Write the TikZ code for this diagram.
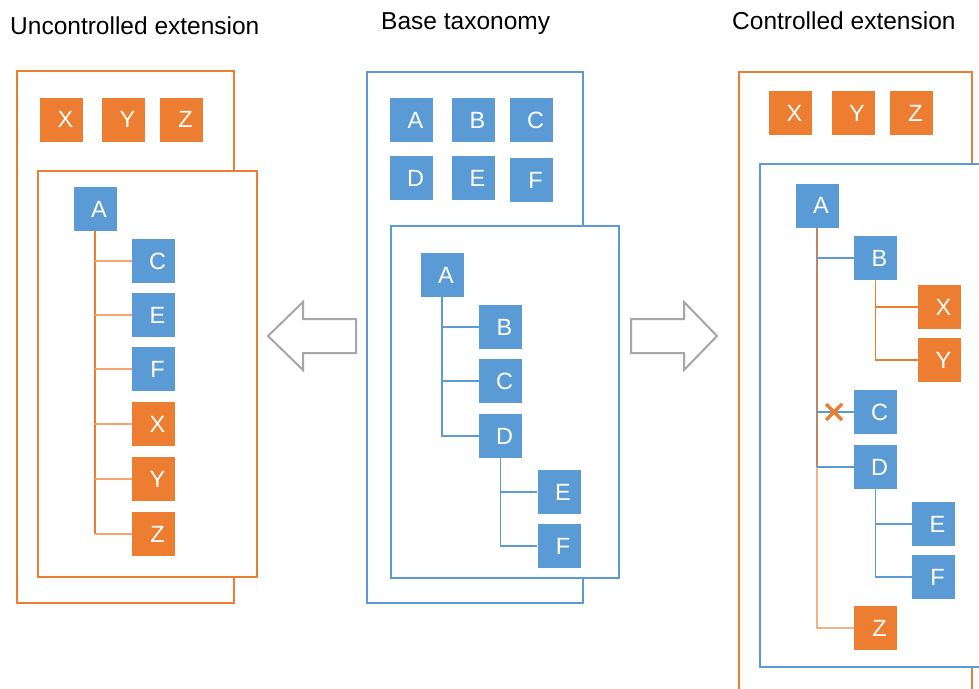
\documentclass[tikz,border=0pt]{standalone}
\usepackage{fontspec}
\setmainfont{Liberation Sans}
\definecolor{tblue}{RGB}{91,155,213}
\definecolor{torange}{RGB}{237,125,49}
\definecolor{tbrown}{RGB}{188,132,96}
\definecolor{tgrey}{RGB}{166,166,166}
\tikzset{
	box/.style={minimum width=43pt, minimum height=44pt, inner sep=0pt, text=white,
		font=\fontsize{23.5}{27}\selectfont, execute at begin node=\hspace*{8pt}},
	bbox/.style={box, fill=tblue},
	obox/.style={box, fill=torange},
	title/.style={anchor=base west, inner sep=0pt, font=\fontsize{24.5}{29}\selectfont},
	oframe/.style={line width=2.2pt, draw=torange, fill=white},
	bframe/.style={line width=2.2pt, draw=tblue, fill=white},
	link/.style={line width=1.4pt},
	bigarrow/.style={draw=tgrey, line width=2pt, fill=white}
}
\begin{document}
\begin{tikzpicture}[x=1pt, y=-1pt]
		\useasboundingbox (0,0) rectangle (979,688);
		\clip (0,0) rectangle (979,688);

		% titles
		\node [title] (tleft) at (10,34) {Uncontrolled extension};
		\node [title] (tmid) at (381,29) {Base taxonomy};
		\node [title] (tright) at (732,29) {Controlled extension};

		% left panel
		\draw [oframe] (17,71) rectangle (234,603);
		\node [obox] (lX) at (61.5,119.5) {X};
		\node [obox] (lY) at (123.5,119.5) {Y};
		\node [obox] (lZ) at (181.5,119.5) {Z};
		\draw [oframe] (38,171) rectangle (257,577);
		\node [bbox] (lA) at (95,209) {A};
		\node [bbox] (lC) at (153.5,261) {C};
		\node [bbox] (lE) at (153.5,315) {E};
		\node [bbox] (lF) at (153.5,369) {F};
		\node [obox] (lTX) at (153.5,424) {X};
		\node [obox] (lTY) at (153.5,479) {Y};
		\node [obox] (lTZ) at (153.5,534) {Z};
		\draw [link, torange] (lA.south) -- (lA.south |- lTZ.west);
		\foreach \n in {lC,lE,lF,lTX,lTY,lTZ}
			\draw [link, torange!70] (lA.south |- \n.west) -- (\n.west);

		% middle panel
		\draw [bframe] (367,72) rectangle (583,603);
		\node [bbox] (mA) at (411.5,120) {A};
		\node [bbox] (mB) at (473.5,120) {B};
		\node [bbox] (mC) at (531.5,120) {C};
		\node [bbox] (mD) at (411.5,178) {D};
		\node [bbox] (mE) at (473.5,178) {E};
		\node [bbox] (mF) at (531.5,180) {F};
		\draw [bframe] (391,226) rectangle (619,578);
		\node [bbox] (tA) at (442,275) {A};
		\node [bbox] (tB) at (500.5,327) {B};
		\node [bbox] (tC) at (500.5,381) {C};
		\node [bbox] (tD) at (500.5,436) {D};
		\node [bbox] (tE) at (559,492) {E};
		\node [bbox] (tF) at (559,546) {F};
		\draw [link, tblue] (tA.south) |- (tB.west);
		\draw [link, tblue] (tA.south) |- (tC.west);
		\draw [link, tblue] (tA.south) |- (tD.west);
		\draw [link, tblue] (tD.south) |- (tE.west);
		\draw [link, tblue] (tD.south) |- (tF.west);

		% arrows
		\draw [bigarrow] (356,319) -- (303,319) -- (303,302) -- (268,336)
			-- (303,370) -- (303,353) -- (356,353) -- cycle;
		\draw [bigarrow] (631,319) -- (684,319) -- (684,302) -- (717,336)
			-- (684,370) -- (684,353) -- (631,353) -- cycle;

		% right panel
		\draw [oframe] (739,72) rectangle (972,720);
		\node [obox] (rX) at (790.5,113) {X};
		\node [obox] (rY) at (853,113) {Y};
		\node [obox] (rZ) at (911.5,113) {Z};
		\draw [bframe] (760,164) rectangle (1000,667);
		\node [bbox] (rA) at (817,205.5) {A};
		\node [bbox] (rB) at (875.5,258) {B};
		\node [obox] (rBX) at (939.5,307) {X};
		\node [obox] (rBY) at (939.5,360) {Y};
		\node [bbox] (rC) at (875.5,412) {C};
		\node [bbox] (rD) at (875.5,467) {D};
		\node [bbox] (rE) at (933.5,524) {E};
		\node [bbox] (rF) at (933.5,577) {F};
		\node [obox] (rTZ) at (875.5,628) {Z};
		\draw [link, tbrown] (rA.south) -- (rA.south |- rD.west);
		\draw [link, torange!60] (rA.south |- rD.west) |- (rTZ.west);
		\draw [link, tblue] (rA.south |- rB.west) -- (rB.west);
		\draw [link, tblue] (rA.south |- rC.west) -- (rC.west);
		\draw [link, tblue] (rA.south |- rD.west) -- (rD.west);
		\draw [link, torange] (rB.south) |- (rBX.west);
		\draw [link, torange] (rB.south) |- (rBY.west);
		\draw [link, tblue] (rD.south) |- (rE.west);
		\draw [link, tblue] (rD.south) |- (rF.west);
		\node [inner sep=0pt] (cut) at (834,412) {};
		\draw [torange, line width=3.5pt] ([shift={(-8,-8)}]cut.center) -- ([shift={(8,8)}]cut.center)
			([shift={(-8,8)}]cut.center) -- ([shift={(8,-8)}]cut.center);
\end{tikzpicture}
\end{document}
